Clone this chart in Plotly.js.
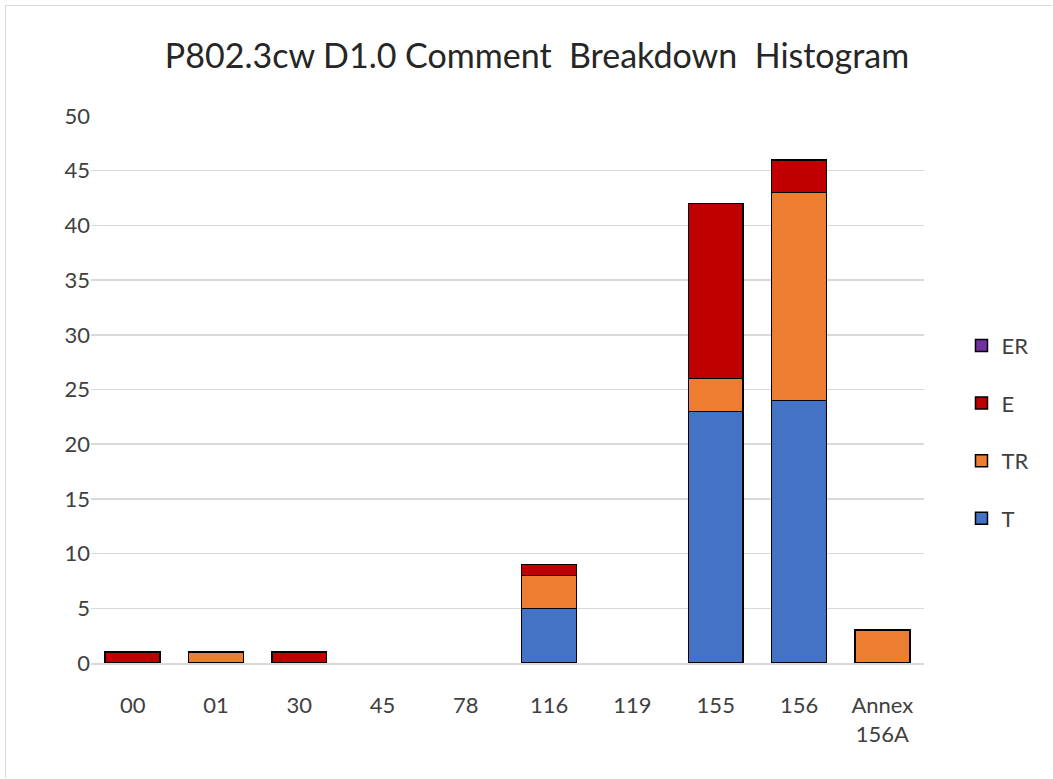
<!DOCTYPE html>
<html>
<head>
<meta charset="utf-8">
<script src="https://cdn.plot.ly/plotly-3.0.1.min.js"></script>
<style>
  html, body { margin: 0; padding: 0; background: #fff; }
  #frame { position: absolute; left: 5px; top: 5px; width: 1047px; height: 773px; border: 1px solid #d9d9d9; border-right: none; border-bottom: none; box-sizing: border-box; pointer-events: none; z-index: 5; }
  #chart { width: 1053px; height: 779px; }
</style>
</head>
<body>
<div id="frame"></div>
<div id="chart"></div>
<script>
const categories = ["00", "01", "30", "45", "78", "116", "119", "155", "156", "Annex<br>156A"];
const T_values  = [0, 0, 0, 0, 0, 5, 0, 23, 24, 0];
const TR_values = [0, 1, 0, 0, 0, 3, 0, 3, 19, 3];
const E_values  = [1, 0, 1, 0, 0, 1, 0, 16, 3, 0];
const ER_values = [0, 0, 0, 0, 0, 0, 0, 0, 0, 0];
const yTicks = [0, 5, 10, 15, 20, 25, 30, 35, 40, 45, 50];

const fontFam = "Lato, 'Open Sans', sans-serif";
function mk(name, vals, color, rank) {
  return {
    type: "bar", name: name, x: categories, y: vals.map(v => v === 0 ? null : v),
    marker: { color: color, line: { color: "#000000", width: 1.5 } },
    legendgroup: name, legendrank: rank, width: 0.66
  };
}
const data = [
  mk("T", T_values, "#4472C4", 4),
  mk("TR", TR_values, "#ED7D31", 3),
  mk("E", E_values, "#C00000", 2),
  mk("ER", ER_values, "#7030A0", 1)
];
const layout = {
  width: 1053, height: 779,
  paper_bgcolor: "#ffffff", plot_bgcolor: "#ffffff",
  barmode: "stack",
  margin: { l: 91, r: 129, t: 116, b: 116 },
  title: { text: "P802.3cw D1.0 Comment  Breakdown  Histogram", xref: "container", x: 0.51, xanchor: "center", y: 0.928, yanchor: "middle",
           font: { family: fontFam, size: 34, color: "#262626" } },
  font: { family: fontFam, size: 21, color: "#404040" },
  xaxis: { type: "category", tickfont: { family: fontFam, size: 22, color: "#404040" }, showline: true, linecolor: "#d9d9d9", linewidth: 1.5, ticks: "", showgrid: false, automargin: false, ticklabelstandoff: 22 },
  yaxis: { range: [0, 50], tickvals: yTicks, ticktext: yTicks.map(String), tickfont: { family: fontFam, size: 22, color: "#404040" },
           gridcolor: "#d9d9d9", gridwidth: 1.5, zeroline: false, ticks: "", ticklen: 0, automargin: false, fixedrange: true },
  legend: { x: 1.045, xanchor: "left", y: 0.422, yanchor: "middle", traceorder: "grouped", tracegroupgap: 26,
            font: { family: fontFam, size: 22, color: "#404040" }, itemwidth: 30, bgcolor: "rgba(0,0,0,0)" },
  showlegend: true
};
Plotly.newPlot("chart", data, layout, { displayModeBar: false, staticPlot: true });
</script>
</body>
</html>
